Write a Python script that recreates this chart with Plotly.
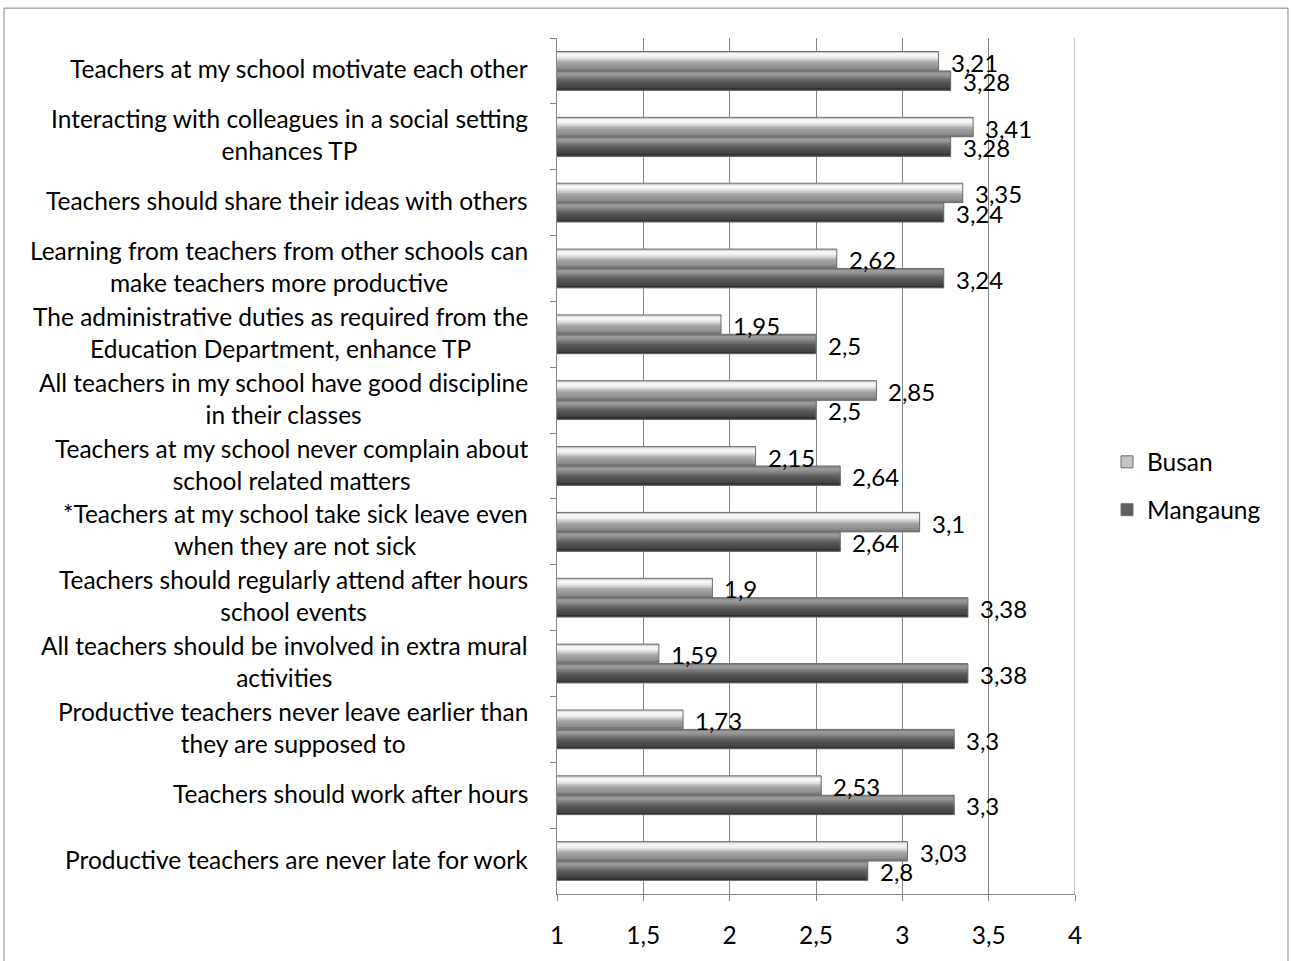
import plotly.graph_objects as go

# Survey statements (top to bottom) and mean scores per city
statements = [
    "Teachers at my school motivate each other",
    "Interacting with colleagues in a social setting<br>enhances TP",
    "Teachers should share their ideas with others",
    "Learning from teachers from other schools can<br>make teachers more productive",
    "The administrative duties as required from the<br>Education Department, enhance TP",
    "All teachers in my school have good discipline<br>in their classes",
    "Teachers at my school never complain about<br>school related matters",
    "*Teachers at my school take sick leave even<br>when they are not sick",
    "Teachers should regularly attend after hours<br>school events",
    "All teachers should be involved in extra mural<br>activities",
    "Productive teachers never leave earlier than<br>they are supposed to",
    "Teachers should work after hours",
    "Productive teachers are never late for work",
]
busan = [3.21, 3.41, 3.35, 2.62, 1.95, 2.85, 2.15, 3.1, 1.9, 1.59, 1.73, 2.53, 3.03]
mangaung = [3.28, 3.28, 3.24, 3.24, 2.5, 2.5, 2.64, 2.64, 3.38, 3.38, 3.3, 3.3, 2.8]
x_ticks = [1, 1.5, 2, 2.5, 3, 3.5, 4]

FONT = "Lato"
FS = 24.5     # statement / legend / tick text
FS_VAL = 24   # value labels
GRID = "#868686"

# Plot area in pixels
W, H = 1292, 961
L, R, T, B = 557, 1075, 38, 898

BAR_H = 0.295   # thickness of one bar in category units

# shading from top edge to bottom edge
busan_shade = ["#c8c8c8", "#f4f4f4", "#f7f7f7", "#ededed", "#dcdcdc", "#c4c4c4",
               "#adadad", "#a0a0a0", "#999999", "#939393", "#8a8a8a", "#7a7a7a"]
mang_shade = ["#7e7e7e", "#9a9a9a", "#969696", "#888888", "#777777", "#686868",
              "#5c5c5c", "#545454", "#4e4e4e", "#484848", "#424242", "#333333"]

fig = go.Figure()


def add_series(values, name, shades, start, legend_color):
    n = len(shades)
    h = BAR_H / n
    # layered bands: each band runs from its own top edge to the bar bottom,
    # so the later (lower) bands paint over the earlier ones without seams
    for i, c in enumerate(shades):
        fig.add_trace(go.Bar(
            x=values, y=statements, orientation="h",
            offset=start + i * h, width=BAR_H - i * h,
            marker=dict(color=c, line=dict(width=0)),
            showlegend=False, hoverinfo="skip",
        ))
    # thin outline around the whole bar
    fig.add_trace(go.Bar(
        x=values, y=statements, orientation="h",
        offset=start, width=BAR_H,
        marker=dict(color="rgba(0,0,0,0)", line=dict(color="#707070", width=1)),
        showlegend=False, hoverinfo="skip",
    ))
    # legend entry
    fig.add_trace(go.Bar(
        x=[None], y=[statements[0]], orientation="h", name=name,
        marker=dict(color=legend_color, line=dict(color="#6e6e6e", width=1)),
        legendgroup=name,
    ))


add_series(busan, "Busan", busan_shade, -BAR_H, "#c4c4c4")
add_series(mangaung, "Mangaung", mang_shade, 0.0, "#5e5e5e")

# value labels at the end of each bar
px_per_cat = (B - T) / len(statements)
for s, v in zip(statements, busan):
    fig.add_annotation(x=v, y=s, text=str(v).replace(".", ","), showarrow=False,
                       xanchor="left", xshift=10, yshift=BAR_H * px_per_cat / 2 - 1,
                       font=dict(family=FONT, size=FS_VAL, color="#000"))
for s, v in zip(statements, mangaung):
    fig.add_annotation(x=v, y=s, text=str(v).replace(".", ","), showarrow=False,
                       xanchor="left", xshift=10, yshift=-BAR_H * px_per_cat / 2 - 1,
                       font=dict(family=FONT, size=FS_VAL, color="#000"))

# statement labels, lines centered, block right-aligned next to the axis
for s in statements:
    fig.add_annotation(x=0, xref="paper", y=s, text=s, showarrow=False,
                       xanchor="right", xshift=-27, yshift=2, align="center",
                       font=dict(family=FONT, size=FS, color="#000"))

# right-hand gridline at the end of the value range
fig.add_shape(type="line", xref="x", yref="paper", x0=x_ticks[-1], x1=x_ticks[-1],
              y0=0, y1=1, line=dict(color=GRID, width=1), layer="below")

# outer chart frame
pw, ph = R - L, B - T
fig.add_shape(type="rect", xref="paper", yref="paper",
              x0=(4 - L) / pw, x1=(1288 - L) / pw,
              y0=(B - 990) / ph, y1=(B - 8) / ph,
              line=dict(color=GRID, width=1), fillcolor="rgba(0,0,0,0)", layer="below")

fig.update_layout(
    width=W, height=H,
    margin=dict(l=L, r=W - R, t=T, b=H - B, pad=0),
    barmode="overlay",
    separators=", ",
    plot_bgcolor="white", paper_bgcolor="white",
    font=dict(family=FONT, size=FS, color="#000"),
    legend=dict(x=(1107 - L) / pw, xanchor="left", y=(B - 488) / ph, yanchor="middle",
                traceorder="grouped", tracegroupgap=13,
                font=dict(family=FONT, size=FS, color="#000"),
                bgcolor="rgba(0,0,0,0)"),
    xaxis=dict(range=[1, 4], tickvals=x_ticks, ticks="outside", ticklen=6,
               tickcolor=GRID, showline=True, linecolor=GRID, showgrid=True,
               gridcolor=GRID, gridwidth=1, zeroline=False, ticklabelstandoff=14,
               tickfont=dict(family=FONT, size=FS, color="#000")),
    yaxis=dict(type="category", categoryorder="array", categoryarray=statements,
               autorange="reversed", showticklabels=False, ticks="outside",
               tickson="boundaries", ticklen=6, tickcolor=GRID, showline=True,
               linecolor=GRID, showgrid=False, zeroline=False),
)

fig.write_html("out.html")
